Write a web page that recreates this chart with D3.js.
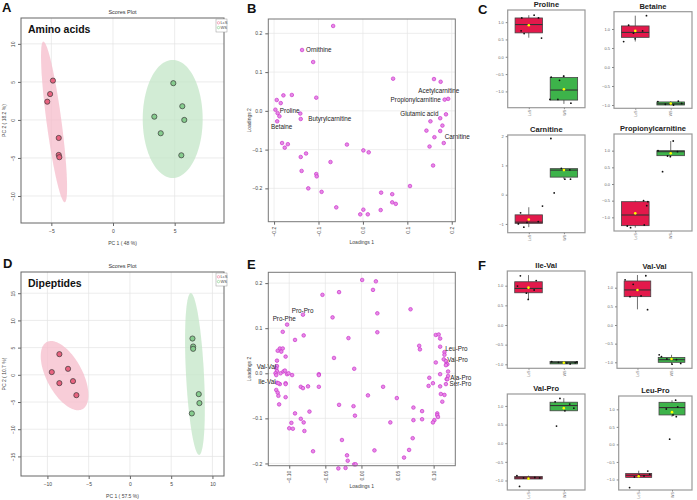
<!DOCTYPE html>
<html><head><meta charset="utf-8">
<script src="https://cdn.jsdelivr.net/npm/d3@7"></script>
<style>body{margin:0;background:#fff}svg text{font-family:"Liberation Sans",Arial,sans-serif}</style>
</head><body><svg id="c" width="697" height="500"></svg>
<script>
// ---------------- DATA ----------------
const groups = ["LcS", "WS"];
// Scores plots (PC1, PC2)
const aminoLcS = [[-4.87,5.17],[-5.1,3.4],[-5.33,2.4],[-4.4,-2.37],[-4.4,-4.6],[-4.35,-4.9]];
const aminoWS  = [[4.89,4.83],[5.62,1.8],[3.35,0.43],[5.78,0],[3.87,-1.75],[5.54,-4.65]];
const dipLcS   = [[-8.55,3.8],[-9.47,0.5],[-7.5,1.1],[-8.55,-1.53],[-6.9,-1.16],[-6.49,-3.74]];
const dipWS    = [[7.58,6.67],[7.66,5.2],[7.66,4.78],[8.34,-3.55],[8.42,-5.2],[7.5,-7.1]];
// confidence ellipses: [cx, cy, axis1x, axis1y, axis2x, axis2y] in PC units
const aminoLcSEllipse = [-4.78,-0.26,-0.87,10.56,0.60,0.13];
const aminoWSEllipse  = [4.84,0.13,0,7.76,2.43,0];
const dipLcSEllipse   = [-7.92,-0.15,2.16,-6.17,-1.92,-1.55];
const dipWSEllipse    = [7.88,0.15,-0.51,14.87,1.086,0.086];
const aminoXTicks = [-5,0,5], aminoYTicks = [-10,-5,0,5,10];
const dipXTicks = [-10,-5,0,5,10], dipYTicks = [-15,-10,-5,0,5,10,15];

// Loadings B (amino acids)
const loadB = [[-0.067,0.219],[-0.137,0.157],[-0.112,0.126],[-0.194,0.028],[-0.179,0.040],[-0.160,0.041],[-0.185,0.020],[-0.105,0.034],[-0.197,0.003],[-0.192,-0.006],[-0.188,-0.014],[-0.141,-0.007],[-0.140,-0.021],[-0.193,-0.027],[-0.182,-0.083],[-0.169,-0.086],[-0.176,-0.095],[-0.128,-0.110],[-0.140,-0.119],[-0.138,-0.155],[-0.105,-0.163],[-0.104,-0.169],[-0.123,-0.200],[-0.093,-0.209],[-0.073,-0.132],[-0.060,-0.249],
[0.068,0.083],[0.160,0.082],[0.175,0.075],[0.184,0.029],[0.192,0.031],[0.187,-0.009],[0.174,-0.019],[0.152,-0.027],[0.179,-0.038],[0.143,-0.051],[0.174,-0.052],[0.161,-0.068],[0.182,-0.083],[0.150,-0.092],[-0.036,-0.087],[0.001,-0.102],[0.013,-0.107],[0.158,-0.141],[0.106,-0.194],[0.041,-0.211],[0.066,-0.215],[0.066,-0.236],[0.074,-0.240],[0.001,-0.255],[-0.006,-0.267],[0.011,-0.267],[0.040,-0.256]];
// label: [name, x, y, anchor]
const labelsB = [["Ornithine",-0.128,0.157,"start"],["Proline",-0.187,0.0,"start"],["Betaine",-0.207,-0.041,"start"],["Butyrylcarnitine",-0.123,-0.021,"start"],["Acetylcarnitine",0.217,0.053,"end"],["Propionylcarnitine",0.175,0.029,"end"],["Glutamic acid",0.170,-0.007,"end"],["Carnitine",0.184,-0.068,"start"]];
const bXTicks = [-0.2,-0.1,0,0.1,0.2], bYTicks = [-0.2,-0.1,0,0.1,0.2];

// Loadings E (dipeptides)
const loadE = [[-0.054,0.174],[-0.031,0.180],[-0.040,0.124],[-0.081,0.130],[-0.080,0.084],[-0.103,0.108],[-0.109,0.092],[-0.092,0.074],[-0.038,0.034],[-0.113,0.055],[-0.109,0.055],[-0.116,0.050],[-0.111,0.048],[-0.105,0.037],[-0.117,0.028],[-0.117,0.016],[-0.118,0.011],[-0.117,0.005],[-0.119,0.0],[-0.118,-0.004],[-0.112,0.0],[-0.108,0.004],[-0.106,0.006],[-0.103,-0.002],[-0.101,0.0],[-0.096,-0.004],[-0.059,-0.002],[-0.059,-0.004],[-0.117,-0.021],[-0.113,-0.024],[-0.115,-0.022],[-0.105,-0.022],[-0.105,-0.024],[-0.084,-0.030],[-0.081,-0.033],[-0.074,-0.029],[-0.059,-0.030],[-0.118,-0.037],[-0.116,-0.043],[-0.115,-0.050],[-0.105,-0.053],[-0.114,-0.069],[-0.031,-0.070],[-0.092,-0.089],[-0.072,-0.085],[-0.084,-0.101],[-0.097,-0.110],[-0.080,-0.109],[-0.100,-0.122],[-0.095,-0.123],[-0.079,-0.128],[-0.067,-0.173],[-0.032,-0.211],
[0.001,0.207],[0.020,0.204],[0.016,0.185],[0.022,0.133],[0.068,0.142],[0.022,0.091],[-0.018,0.078],[0.103,0.085],[0.107,0.086],[0.109,0.077],[0.109,0.059],[0.080,0.061],[0.081,0.053],[0.115,0.047],[0.115,0.041],[0.114,0.031],[0.117,0.027],[0.118,0.021],[0.119,0.020],[0.117,0.018],[0.103,0.024],[-0.010,0.010],[0.120,0.004],[0.120,-0.006],[0.109,-0.002],[0.094,-0.010],[0.099,-0.022],[0.093,-0.028],[0.109,-0.029],[0.118,-0.013],[0.119,-0.013],[0.117,-0.024],[0.030,-0.030],[0.110,-0.046],[0.115,-0.048],[0.009,-0.049],[0.112,-0.063],[0.049,-0.055],[-0.011,-0.073],[0.072,-0.076],[0.084,-0.084],[0.105,-0.089],[0.105,-0.093],[0.106,-0.097],[-0.009,-0.094],[0.084,-0.102],[0.072,-0.104],[0.101,-0.104],[0.099,-0.109],[0.040,-0.109],[-0.027,-0.148],[0.071,-0.144],[0.018,-0.171],[0.066,-0.170],[-0.020,-0.182],[-0.019,-0.194],[-0.010,-0.202],[-0.008,-0.202],[0.059,-0.187],[-0.022,-0.210]];
const labelsE = [["Pro-Pro",-0.0965,0.138,"start"],["Pro-Phe",-0.123,0.12,"start"],["Val-Val",-0.145,0.015,"start"],["Ile-Val",-0.143,-0.019,"start"],["Leu-Pro",0.116,0.055,"start"],["Val-Pro",0.119,0.031,"start"],["Ala-Pro",0.123,-0.009,"start"],["Ser-Pro",0.122,-0.023,"start"]];
const eXTicks = [-0.10,-0.05,0,0.05,0.10], eYTicks = [-0.2,-0.1,0,0.1,0.2];

// Box plots: stats = [whiskerLow, q1, median, q3, whiskerHigh, mean]
const boxTitles = ["Proline","Betaine","Carnitine","Propionylcarnitine","Ile-Val","Val-Val","Val-Pro","Leu-Pro"];
const boxStats = {
  "Proline":            {LcS:[0.55,0.69,0.93,1.12,1.2,0.91],     WS:[-1.36,-1.25,-0.96,-0.60,-0.53,-0.94]},
  "Betaine":            {LcS:[0.67,0.78,0.91,1.08,1.35,0.95],    WS:[-1.0,-1.0,-0.97,-0.92,-0.90,-0.96]},
  "Carnitine":          {LcS:[-1.11,-0.98,-0.94,-0.69,-0.43,-0.85], WS:[0.53,0.60,0.84,0.89,0.90,0.84]},
  "Propionylcarnitine": {LcS:[-1.31,-1.25,-0.93,-0.53,-0.5,-0.88], WS:[0.82,0.85,0.97,1.0,1.29,0.92]},
  "Ile-Val":            {LcS:[0.64,0.82,0.93,1.10,1.27,0.95],    WS:[-0.99,-0.99,-0.96,-0.93,-0.93,-0.96]},
  "Val-Val":            {LcS:[0.42,0.76,0.94,1.18,1.34,0.94],    WS:[-1.05,-1.0,-0.93,-0.87,-0.80,-0.91]},
  "Val-Pro":            {LcS:[-0.96,-0.96,-0.93,-0.89,-0.87,-0.95], WS:[0.87,0.87,1.01,1.10,1.21,0.94]},
  "Leu-Pro":            {LcS:[-0.94,-0.94,-0.88,-0.83,-0.75,-0.91], WS:[0.79,0.84,1.05,1.2,1.26,0.92]}
};
// individual samples: values and horizontal jitter (fraction of half box width)
const boxPoints = {
  "Proline":            {LcS:[[1.12,-0.51],[1.2,0.39],[1.12,0.71],[0.75,-0.56],[0.67,-0.34],[0.54,0.93]], WS:[[-0.56,-0.02],[-0.59,-0.93],[-0.68,-0.32],[-1.23,-1.02],[-1.23,-0.44],[-1.34,0.51]]},
  "Betaine":            {LcS:[[1.1,-0.48],[1.35,0.81],[0.89,-0.13],[0.95,0.53],[0.74,-0.01],[0.67,-0.84]], WS:[[-0.91,-0.93],[-0.90,0.55],[-0.98,-0.39],[-0.96,0.79],[-1.0,0.2],[-0.97,-0.06]]},
  "Carnitine":          {LcS:[[-0.62,-0.6],[-0.39,1.0],[-0.92,0.69],[-1.0,-0.76],[-1.11,-0.36],[-0.95,-0.13]], WS:[[0.90,-0.19],[0.85,0.43],[0.53,0.07],[0.53,0.48],[0.06,-0.71],[1.92,-0.95]]},
  "Propionylcarnitine": {LcS:[[-0.5,0.6],[-0.53,0.91],[-0.65,0.83],[-1.31,-0.34],[-1.23,0.65],[-1.26,-0.58]], WS:[[1.29,0.18],[1.0,-0.92],[0.84,-0.23],[0.82,-0.03],[0.37,-0.59],[0.97,0.49]]},
  "Ile-Val":            {LcS:[[1.25,-0.59],[1.13,0.56],[0.99,-0.8],[0.89,0.41],[0.81,-0.15],[0.65,-0.02]], WS:[[-0.93,-0.88],[-0.95,-0.39],[-0.97,0.22],[-0.99,0.46],[-0.96,0.83],[-0.94,0.95]]},
  "Val-Val":            {LcS:[[1.32,0.63],[1.21,-0.93],[1.09,-0.32],[0.78,0.27],[0.76,-0.56],[0.41,0.76]], WS:[[-0.80,-0.93],[-0.85,-0.76],[-0.91,-0.35],[-0.93,0.37],[-1.05,0.04],[-1.03,0.69]]},
  "Val-Pro":            {LcS:[[-0.87,-0.84],[-0.93,-0.36],[-0.93,0.81],[-1.16,-0.65],[-0.94,0.0],[-0.92,0.46]], WS:[[1.2,-0.28],[1.11,-0.63],[0.94,0.73],[0.87,0.08],[0.46,-0.53],[1.05,0.43]]},
  "Leu-Pro":            {LcS:[[-0.93,-0.33],[-0.76,0.7],[-0.85,0.85],[-1.23,-0.7],[-0.88,0.04],[-0.90,0.41]], WS:[[1.26,0.28],[1.07,0.44],[1.01,-0.44],[0.84,0.08],[0.79,0.33],[0.15,-0.18]]}
};

// ---------------- DRAWING ----------------
const svg = d3.select("#c");
const RED = "#e8627f", GREEN = "#86cc8e";

function ellipsePts(e){
  const [cx,cy,ux,uy,vx,vy] = e;
  return d3.range(0,121).map(i=>{const t=i/120*2*Math.PI;
    return [cx+ux*Math.cos(t)+vx*Math.sin(t), cy+uy*Math.cos(t)+vy*Math.sin(t)];});
}

function scoresPlot(o){
  const g = svg.append("g");
  const x = d3.scaleLinear().domain(o.xd).range([o.fx0,o.fx1]);
  const y = d3.scaleLinear().domain(o.yd).range([o.fy1,o.fy0]);
  g.append("rect").attr("x",o.fx0).attr("y",o.fy0).attr("width",o.fx1-o.fx0).attr("height",o.fy1-o.fy0).attr("fill","#fff");
  g.selectAll(".gx").data(o.xt).join("line").attr("x1",d=>x(d)).attr("x2",d=>x(d)).attr("y1",o.fy0).attr("y2",o.fy1).attr("stroke","#e4e4e4").attr("stroke-width",0.7);
  g.selectAll(".gy").data(o.yt).join("line").attr("y1",d=>y(d)).attr("y2",d=>y(d)).attr("x1",o.fx0).attr("x2",o.fx1).attr("stroke","#e4e4e4").attr("stroke-width",0.7);
  const line = d3.line().x(d=>x(d[0])).y(d=>y(d[1])).curve(d3.curveLinearClosed);
  g.append("path").attr("d",line(ellipsePts(o.e1))).attr("fill","#f6bccb").attr("fill-opacity",0.75);
  g.append("path").attr("d",line(ellipsePts(o.e2))).attr("fill","#c3e6c7").attr("fill-opacity",0.75);
  [[o.p1,RED],[o.p2,GREEN]].forEach(([pts,c])=>{
    g.selectAll(null).data(pts).join("circle").attr("cx",d=>x(d[0])).attr("cy",d=>y(d[1])).attr("r",2.6)
      .attr("fill",c).attr("stroke","#3a3a3a").attr("stroke-width",0.7);
  });
  g.append("rect").attr("x",o.fx0).attr("y",o.fy0).attr("width",o.fx1-o.fx0).attr("height",o.fy1-o.fy0).attr("fill","none").attr("stroke","#666").attr("stroke-width",1);
  const ax = g.append("g").attr("transform",`translate(0,${o.fy1})`).call(d3.axisBottom(x).tickValues(o.xt).tickSize(3).tickPadding(3).tickFormat(d3.format("d")));
  const ay = g.append("g").attr("transform",`translate(${o.fx0},0)`).call(d3.axisLeft(y).tickValues(o.yt).tickSize(3).tickFormat(d3.format("d")));
  [ax,ay].forEach(a=>{a.select(".domain").remove(); a.selectAll("line").attr("stroke","#666"); a.selectAll("text").attr("font-size",5).attr("fill","#444").attr("font-family","Liberation Sans");});
  ay.selectAll("text").attr("transform","rotate(-90)").attr("x",0).attr("y",-6).attr("dy",0).attr("text-anchor","middle");
  g.append("text").attr("x",(o.fx0+o.fx1)/2).attr("y",o.fy0-4).attr("text-anchor","middle").attr("font-size",5.5).attr("fill","#333").text("Scores Plot");
  g.append("text").attr("x",(o.fx0+o.fx1)/2).attr("y",o.fy1+22).attr("text-anchor","middle").attr("font-size",5).attr("fill","#444").text(o.xlab);
  g.append("text").attr("transform",`translate(${o.fx0-15},${(o.fy0+o.fy1)/2}) rotate(-90)`).attr("text-anchor","middle").attr("font-size",5).attr("fill","#444").text(o.ylab);
  g.append("text").attr("x",o.fx0+7).attr("y",o.fy0+15).attr("font-size",10.5).attr("font-weight","bold").attr("font-family","Lato").attr("fill","#111").text(o.name);
  // legend
  const lg = g.append("g").attr("transform",`translate(${o.fx1-8},${o.fy0+1})`);
  lg.append("rect").attr("width",11).attr("height",13).attr("fill","#fff").attr("stroke","#999").attr("stroke-width",0.5);
  groups.forEach((gname,i)=>{
    lg.append("circle").attr("cx",2.5).attr("cy",3.8+i*4.8).attr("r",1.2).attr("fill","none").attr("stroke",i?"#7fcf88":"#ee7b98").attr("stroke-width",0.6);
    lg.append("text").attr("x",4.5).attr("y",5.3+i*4.8).attr("font-size",4).attr("fill","#444").text(gname);
  });
}

function loadingsPlot(o){
  const g = svg.append("g");
  const x = d3.scaleLinear().domain(o.xd).range([o.fx0,o.fx1]);
  const y = d3.scaleLinear().domain(o.yd).range([o.fy1,o.fy0]);
  g.selectAll(".gx").data(o.xt).join("line").attr("x1",d=>x(d)).attr("x2",d=>x(d)).attr("y1",o.fy0).attr("y2",o.fy1).attr("stroke","#e6e6e6").attr("stroke-width",0.7);
  g.selectAll(".gy").data(o.yt).join("line").attr("y1",d=>y(d)).attr("y2",d=>y(d)).attr("x1",o.fx0).attr("x2",o.fx1).attr("stroke","#e6e6e6").attr("stroke-width",0.7);
  g.selectAll(null).data(o.pts).join("circle").attr("cx",d=>x(d[0])).attr("cy",d=>y(d[1])).attr("r",1.8)
    .attr("fill","#e68ae6").attr("stroke","#cc33cc").attr("stroke-width",0.7);
  g.selectAll(null).data(o.labels).join("text").attr("x",d=>x(d[1])).attr("y",d=>y(d[2])).attr("dy","0.35em")
    .attr("text-anchor",d=>d[3]).attr("font-size",6.3).attr("fill","#222").text(d=>d[0]);
  g.append("rect").attr("x",o.fx0).attr("y",o.fy0).attr("width",o.fx1-o.fx0).attr("height",o.fy1-o.fy0).attr("fill","none").attr("stroke","#777").attr("stroke-width",1);
  const ax = g.append("g").attr("transform",`translate(0,${o.fy1})`).call(d3.axisBottom(x).tickValues(o.xt).tickSize(3).tickFormat(d3.format(o.xf)));
  const ay = g.append("g").attr("transform",`translate(${o.fx0},0)`).call(d3.axisLeft(y).tickValues(o.yt).tickSize(3).tickPadding(3).tickFormat(d3.format(".1f")));
  [ax,ay].forEach(a=>{a.select(".domain").remove(); a.selectAll("line").attr("stroke","#666"); a.selectAll("text").attr("font-size",5).attr("fill","#444").attr("font-family","Liberation Sans");});
  ax.selectAll("text").attr("transform","rotate(-90)").attr("x",-5).attr("y",0).attr("dy","0.35em").attr("text-anchor","end");
  g.append("text").attr("x",(o.fx0+o.fx1)/2).attr("y",o.fy1+22).attr("text-anchor","middle").attr("font-size",5).attr("fill","#444").text("Loadings 1");
  g.append("text").attr("transform",`translate(${o.fx0-17},${(o.fy0+o.fy1)/2}) rotate(-90)`).attr("text-anchor","middle").attr("font-size",5).attr("fill","#444").text("Loadings 2");
}

function boxPanel(o){
  const g = svg.append("g");
  const x = d3.scalePoint().domain(groups).range([o.fx0,o.fx1]).padding(0.6);
  const y = d3.scaleLinear().domain(o.yd).range([o.fy1,o.fy0]);
  const hw = x.step()*0.39;
  const st = boxStats[o.name], pts = boxPoints[o.name];
  groups.forEach((gname,i)=>{
    const s = st[gname], cx = x(gname), col = i ? "#3db34a" : "#e3194b";
    g.append("line").attr("x1",cx).attr("x2",cx).attr("y1",y(s[0])).attr("y2",y(s[4])).attr("stroke","#333").attr("stroke-width",0.7);
    g.append("rect").attr("x",cx-hw).attr("width",2*hw).attr("y",y(s[3])).attr("height",Math.max(1.5,y(s[1])-y(s[3])))
      .attr("fill",col).attr("stroke","#444").attr("stroke-width",0.8);
    g.append("line").attr("x1",cx-hw).attr("x2",cx+hw).attr("y1",y(s[2])).attr("y2",y(s[2])).attr("stroke","#333").attr("stroke-width",1.1);
    g.selectAll(null).data(pts[gname]).join("circle").attr("cx",d=>cx+d[1]*hw).attr("cy",d=>y(d[0])).attr("r",0.9).attr("fill","#111");
    g.append("circle").attr("cx",cx).attr("cy",y(s[5])).attr("r",1.3).attr("fill","#ffff00");
  });
  g.append("rect").attr("x",o.fx0).attr("y",o.fy0).attr("width",o.fx1-o.fx0).attr("height",o.fy1-o.fy0).attr("fill","none").attr("stroke","#999").attr("stroke-width",1.2);
  const ay = g.append("g").attr("transform",`translate(${o.fx0},0)`).call(d3.axisLeft(y).tickValues(o.yt).tickSize(2).tickPadding(2).tickFormat(d3.format(o.yf)));
  const ax = g.append("g").attr("transform",`translate(0,${o.fy1})`).call(d3.axisBottom(x).tickSize(1.5));
  [ax,ay].forEach(a=>{a.select(".domain").remove(); a.selectAll("line").attr("stroke","#888"); a.selectAll("text").attr("font-size",4).attr("fill","#666").attr("font-family","Liberation Sans");});
  ax.selectAll("text").attr("transform","rotate(-90)").attr("x",-2.2).attr("y",0).attr("dy","0.35em").attr("text-anchor","end").attr("font-size",3.6);
  g.append("text").attr("x",(o.fx0+o.fx1)/2).attr("y",o.fy0-3).attr("text-anchor","middle").attr("font-size",7.5).attr("font-weight","bold").attr("font-family","Lato").attr("fill","#222").text(o.name);
}

// panel letters
[["A",2,12],["B",247,13],["C",478,14],["D",3,268],["E",247,269],["F",478,270]].forEach(([t,x,y])=>
  svg.append("text").attr("x",x).attr("y",y).attr("font-size",13).attr("font-weight","bold").attr("fill","#111").text(t));

scoresPlot({name:"Amino acids",fx0:21,fx1:224,fy0:18,fy1:223,xd:[-7.46,9.0],yd:[-13.55,13.4],xt:aminoXTicks,yt:aminoYTicks,
  p1:aminoLcS,p2:aminoWS,e1:aminoLcSEllipse,e2:aminoWSEllipse,xlab:"PC 1 ( 48 %)",ylab:"PC 2 ( 18.2 %)"});
scoresPlot({name:"Dipeptides",fx0:21,fx1:224,fy0:272,fy1:476,xd:[-13.2,11.4],yd:[-18.6,18.9],xt:dipXTicks,yt:dipYTicks,
  p1:dipLcS,p2:dipWS,e1:dipLcSEllipse,e2:dipWSEllipse,xlab:"PC 1 ( 57.5 %)",ylab:"PC 2 ( 10.7 %)"});

loadingsPlot({fx0:268.3,fx1:455.3,fy0:19,fy1:221.7,xd:[-0.213,0.208],yd:[-0.286,0.237],xt:bXTicks,yt:bYTicks,xf:".1f",pts:loadB,labels:labelsB});
loadingsPlot({fx0:268.3,fx1:455.3,fy0:272.3,fy1:465.7,xd:[-0.129,0.130],yd:[-0.205,0.224],xt:eXTicks,yt:eYTicks,xf:".2f",pts:loadE,labels:labelsE});

const t5 = [-1,-0.5,0,0.5,1];
boxPanel({name:"Proline",fx0:507.7,fx1:585,fy0:10,fy1:107.7,yd:[-1.47,1.35],yt:t5,yf:".1f"});
boxPanel({name:"Betaine",fx0:614,fx1:692,fy0:11.7,fy1:108.3,yd:[-1.087,1.455],yt:t5,yf:".1f"});
boxPanel({name:"Carnitine",fx0:507.7,fx1:585,fy0:135,fy1:232.7,yd:[-1.30,2.04],yt:[-1,0,1,2],yf:"d"});
boxPanel({name:"Propionylcarnitine",fx0:614,fx1:692,fy0:134,fy1:231,yd:[-1.41,1.5],yt:t5,yf:".1f"});
boxPanel({name:"Ile-Val",fx0:507.3,fx1:585,fy0:271,fy1:368.3,yd:[-1.102,1.374],yt:t5,yf:".1f"});
boxPanel({name:"Val-Val",fx0:617,fx1:692,fy0:272.3,fy1:368.3,yd:[-1.161,1.413],yt:t5,yf:".1f"});
boxPanel({name:"Val-Pro",fx0:507.3,fx1:585,fy0:394,fy1:490,yd:[-1.255,1.32],yt:t5,yf:".1f"});
boxPanel({name:"Leu-Pro",fx0:618.7,fx1:692,fy0:396,fy1:490,yd:[-1.30,1.38],yt:t5,yf:".1f"});
</script></body></html>
